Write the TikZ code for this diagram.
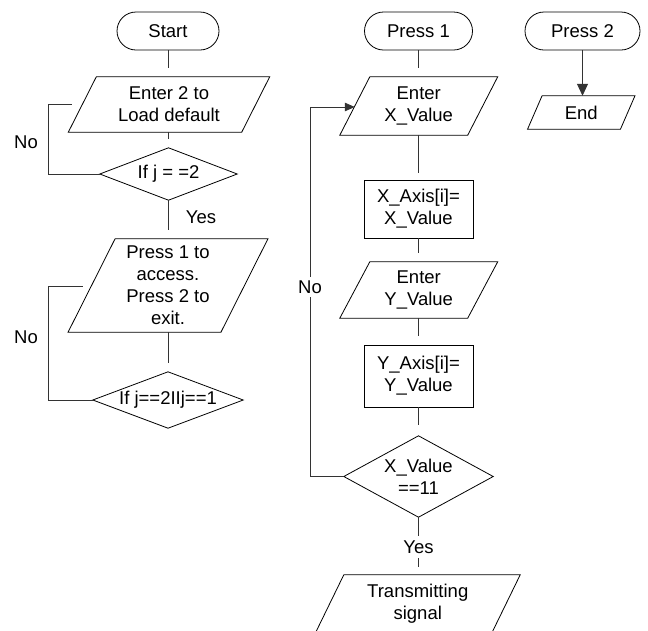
\documentclass[tikz,border=0pt]{standalone}
\usepackage{fontspec}
\setmainfont{Liberation Sans}
\usetikzlibrary{arrows.meta}

% input/output box: a slanted outline drawn over a hidden rectangular frame
\newcommand\ioshape[2]{%
  \draw[shapeline] ([xshift=#2]#1.north west) -- ([xshift=#2]#1.north east)
    -- ([xshift=-#2]#1.south east) -- ([xshift=-#2]#1.south west) -- cycle;}
% decision box: a diamond through the four side anchors of a hidden frame
\newcommand\decshape[1]{%
  \draw[shapeline] (#1.north) -- (#1.east) -- (#1.south) -- (#1.west) -- cycle;}

\begin{document}
\begin{tikzpicture}[x=1pt,y=-1pt,
  every node/.style={font=\fontsize{18.5}{22}\selectfont, align=center, inner sep=0pt},
  shapeline/.style={draw=black, line width=0.8pt},
  terminal/.style={shapeline, rounded corners=19pt, minimum height=38pt},
  procbox/.style={shapeline, minimum width=109pt},
  frame/.style={draw=none},
  link/.style={draw=black!80, line width=0.8pt},
  gap/.style={shorten >=9pt},
  tip/.style={-{Triangle[length=10pt,width=8.5pt]}},
  bigtip/.style={-{Triangle[length=12pt,width=11pt]}},
  lbl/.style={fill=white, inner xsep=1pt, inner ysep=4pt}]
\useasboundingbox (0,0) rectangle (648,630);

% ---------- left column ----------
\node[terminal, minimum width=102pt] (start) at (168,31) {Start};
\node[frame, minimum width=173pt, minimum height=55pt] (p1) at (169,104.5) {Enter 2 to\\Load default};
\ioshape{p1}{14}
\node[frame, minimum width=137pt, minimum height=52pt] (d1) at (168.5,174) {If j = =2};
\decshape{d1}
\node[frame, minimum width=152.5pt, minimum height=93pt] (p2) at (168,285.5) {Press 1 to\\access.\\Press 2 to\\exit.};
\ioshape{p2}{23.5}
\node[frame, minimum width=150pt, minimum height=56pt] (d2) at (168,400) {If j==2IIj==1};
\decshape{d2}

\draw[link, gap] (start.south) -- (start.south |- p1.north);
\draw[link, gap] (p1.south -| d1.north) -- (d1.north);
\draw[link, gap] (d1.south) -- (d1.south |- p2.north);
\draw[link, gap] (p2.south -| d2.north) -- (d2.north);
\node (yes1) at (201,217) {Yes};

\coordinate (l1) at (48,174);
\coordinate (l1t) at (48,104);
\draw[link, shorten >=10pt] (d1.west) -- (l1) -- (l1t) -- (p1.west |- l1t);
\node (no1) at (26,142) {No};

\coordinate (l2) at (48,400);
\coordinate (l2t) at (48,286);
\draw[link, gap] (d2.west) -- (l2) -- (l2t) -- (p2.west |- l2t);
\node (no2) at (26,337) {No};

% ---------- middle column ----------
\node[terminal, minimum width=108pt] (press1) at (418.5,31) {Press 1};
\node[frame, minimum width=127.5pt, minimum height=58pt] (p3) at (418.75,106) {Enter\\X\_Value};
\ioshape{p3}{15}
\node[procbox, minimum height=58pt] (r1) at (418.5,209) {X\_Axis[i]=\\X\_Value};
\node[frame, minimum width=127.5pt, minimum height=56pt] (p4) at (418.75,290) {Enter\\Y\_Value};
\ioshape{p4}{15}
\node[procbox, minimum height=62pt] (r2) at (418.5,376) {Y\_Axis[i]=\\Y\_Value};
\node[frame, minimum width=149pt, minimum height=81pt] (d3) at (418.5,476.5) {X\_Value\\==11};
\decshape{d3}
\node[frame, minimum width=176pt, minimum height=58pt] (p5) at (417.75,604) {Transmitting\\signal};
\ioshape{p5}{14.25}

\draw[link, gap] (press1.south) -- (press1.south |- p3.north);
\draw[link, shorten >=7pt] (p3.south -| r1.north) -- (r1.north);
\draw[link, gap] (r1.south) -- (r1.south |- p4.north);
\draw[link, gap] (p4.south -| r2.north) -- (r2.north);
\draw[link, shorten >=11pt] (r2.south) -- (d3.north);
\draw[link, shorten >=8pt] (d3.south) -- (d3.south |- p5.north);
\node[lbl, inner ysep=5pt] (yes2) at (418.5,547) {Yes};

\coordinate (l3) at (310,476.5);
\coordinate (l3t) at (310,107);
\draw[link, tip] (d3.west) -- (l3) -- (l3t) -- (p3.west |- l3t);
\node[lbl] (no3) at (310,287) {No};

% ---------- right column ----------
\node[terminal, minimum width=115pt] (press2) at (582.5,31) {Press 2};
\node[frame, minimum width=92.5pt, minimum height=33pt] (p6) at (581.25,112.5) {End};
\ioshape{p6}{7.25}
\draw[link, bigtip] (press2.south) -- (press2.south |- p6.north);
\end{tikzpicture}
\end{document}
